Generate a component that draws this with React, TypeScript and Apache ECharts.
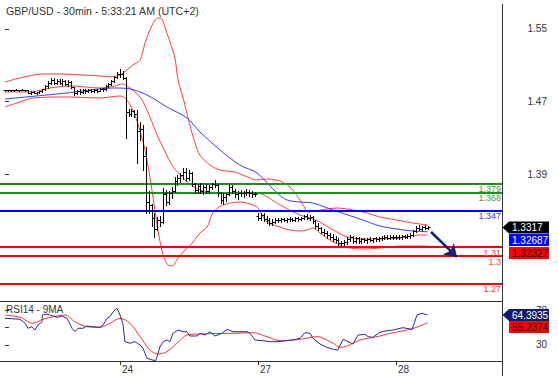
import React, { useEffect, useRef } from "react";
import * as echarts from "echarts";

// ---------- data ----------
const TITLE = "GBP/USD - 30min - 5:33:21 AM (UTC+2)";
const RSI_TITLE = "RSI14 - 9MA";
const dayStart = [40, 88, 136];
const dayLabels = ["24", "27", "28"];
const priceTicks = [1.55, 1.47, 1.39, 1.31];
const priceTickLabels = [1.55, 1.47, 1.39];
const rsiTicks = [30, 50, 70];
const rsiTickLabels = [30, 70];

const levelValues = [1.379, 1.368, 1.347, 1.31, 1.3, 1.27];
const levelLabels = ["1.379", "1.368", "1.347", "1.31", "1.3", "1.27"];
const levelKinds = ["res", "res", "pivot", "sup", "sup", "sup"];

const opens = [
  1.4829, 1.4830, 1.4831, 1.4829, 1.4832, 1.4830, 1.4831, 1.4829,
  1.4825, 1.4800, 1.4808, 1.4798, 1.4805, 1.4815, 1.4835, 1.4868,
  1.4910, 1.4935, 1.4910, 1.4930, 1.4905, 1.4925, 1.4895, 1.4920,
  1.4860, 1.4800, 1.4815, 1.4805, 1.4825, 1.4815, 1.4828, 1.4818,
  1.4832, 1.4822, 1.4840, 1.4835, 1.4870, 1.4895, 1.4925, 1.4975,
  1.5010, 1.5000, 1.4960, 1.4590, 1.4570, 1.4595, 1.4560, 1.4380,
  1.4400, 1.4100, 1.3600, 1.3560, 1.3420, 1.3300, 1.3400, 1.3380,
  1.3680, 1.3600, 1.3690, 1.3720, 1.3830, 1.3860, 1.3890, 1.3930,
  1.3860, 1.3920, 1.3790, 1.3730, 1.3770, 1.3720, 1.3760, 1.3715,
  1.3760, 1.3790, 1.3780, 1.3690, 1.3620, 1.3650, 1.3680, 1.3760,
  1.3720, 1.3680, 1.3700, 1.3690, 1.3700, 1.3710, 1.3690, 1.3680,
  1.3440, 1.3420, 1.3450, 1.3410, 1.3400, 1.3370, 1.3380, 1.3395,
  1.3400, 1.3410, 1.3400, 1.3405, 1.3412, 1.3402, 1.3415, 1.3408,
  1.3420, 1.3440, 1.3425, 1.3430, 1.3385, 1.3330, 1.3310, 1.3270,
  1.3250, 1.3230, 1.3210, 1.3190, 1.3180, 1.3140, 1.3150, 1.3160,
  1.3190, 1.3210, 1.3170, 1.3195, 1.3165, 1.3185, 1.3175, 1.3190,
  1.3180, 1.3195, 1.3185, 1.3200, 1.3205, 1.3210, 1.3205, 1.3212,
  1.3208, 1.3215, 1.3210, 1.3218, 1.3212, 1.3225, 1.3230, 1.3280,
  1.3310, 1.3300, 1.3320, 1.3310,
];
const highs = [
  1.4833, 1.4834, 1.4833, 1.4834, 1.4835, 1.4834, 1.4835, 1.4833,
  1.4830, 1.4815, 1.4820, 1.4812, 1.4822, 1.4840, 1.4880, 1.4925,
  1.4965, 1.4960, 1.4945, 1.4950, 1.4945, 1.4940, 1.4935, 1.4925,
  1.4865, 1.4830, 1.4840, 1.4835, 1.4840, 1.4838, 1.4840, 1.4842,
  1.4845, 1.4848, 1.4855, 1.4880, 1.4905, 1.4935, 1.4985, 1.5030,
  1.5060, 1.5035, 1.4970, 1.4625, 1.4615, 1.4610, 1.4605, 1.4477,
  1.4440, 1.4200, 1.3720, 1.3570, 1.3475, 1.3430, 1.3440, 1.3750,
  1.3730, 1.3720, 1.3760, 1.3870, 1.3890, 1.3920, 1.3965, 1.3970,
  1.3950, 1.3930, 1.3810, 1.3790, 1.3800, 1.3780, 1.3790, 1.3780,
  1.3810, 1.3840, 1.3790, 1.3710, 1.3690, 1.3700, 1.3790, 1.3780,
  1.3740, 1.3720, 1.3730, 1.3720, 1.3735, 1.3730, 1.3720, 1.3710,
  1.3475, 1.3480, 1.3470, 1.3440, 1.3420, 1.3410, 1.3420, 1.3420,
  1.3425, 1.3425, 1.3420, 1.3428, 1.3425, 1.3426, 1.3430, 1.3435,
  1.3455, 1.3460, 1.3450, 1.3440, 1.3400, 1.3360, 1.3320, 1.3300,
  1.3280, 1.3260, 1.3240, 1.3220, 1.3200, 1.3170, 1.3180, 1.3210,
  1.3230, 1.3225, 1.3210, 1.3215, 1.3200, 1.3205, 1.3200, 1.3210,
  1.3205, 1.3215, 1.3210, 1.3225, 1.3228, 1.3230, 1.3230, 1.3232,
  1.3234, 1.3235, 1.3236, 1.3238, 1.3240, 1.3250, 1.3290, 1.3330,
  1.3340, 1.3335, 1.3340, 1.3330,
];
const lows = [
  1.4826, 1.4827, 1.4826, 1.4827, 1.4828, 1.4827, 1.4826, 1.4822,
  1.4795, 1.4790, 1.4795, 1.4788, 1.4800, 1.4805, 1.4830, 1.4855,
  1.4890, 1.4895, 1.4895, 1.4890, 1.4885, 1.4880, 1.4875, 1.4850,
  1.4775, 1.4780, 1.4790, 1.4795, 1.4800, 1.4805, 1.4808, 1.4810,
  1.4812, 1.4815, 1.4820, 1.4830, 1.4860, 1.4880, 1.4915, 1.4960,
  1.4975, 1.4945, 1.4300, 1.4545, 1.4540, 1.4535, 1.4025, 1.4279,
  1.3950, 1.3475, 1.3475, 1.3330, 1.3215, 1.3290, 1.3330, 1.3370,
  1.3560, 1.3570, 1.3640, 1.3710, 1.3780, 1.3820, 1.3850, 1.3830,
  1.3840, 1.3770, 1.3700, 1.3690, 1.3700, 1.3680, 1.3700, 1.3690,
  1.3740, 1.3760, 1.3660, 1.3580, 1.3570, 1.3610, 1.3670, 1.3700,
  1.3650, 1.3630, 1.3660, 1.3650, 1.3670, 1.3660, 1.3650, 1.3660,
  1.3400, 1.3400, 1.3390, 1.3370, 1.3340, 1.3345, 1.3360, 1.3375,
  1.3380, 1.3385, 1.3380, 1.3390, 1.3388, 1.3390, 1.3392, 1.3395,
  1.3405, 1.3410, 1.3395, 1.3370, 1.3310, 1.3290, 1.3250, 1.3230,
  1.3200, 1.3190, 1.3170, 1.3160, 1.3120, 1.3110, 1.3120, 1.3130,
  1.3170, 1.3150, 1.3140, 1.3150, 1.3145, 1.3160, 1.3150, 1.3165,
  1.3160, 1.3170, 1.3165, 1.3180, 1.3185, 1.3188, 1.3185, 1.3190,
  1.3188, 1.3192, 1.3190, 1.3195, 1.3195, 1.3205, 1.3225, 1.3265,
  1.3290, 1.3285, 1.3300, 1.3300,
];
const closes = [
  1.4830, 1.4831, 1.4829, 1.4832, 1.4830, 1.4831, 1.4829, 1.4825,
  1.4800, 1.4808, 1.4798, 1.4805, 1.4815, 1.4835, 1.4868, 1.4910,
  1.4935, 1.4910, 1.4930, 1.4905, 1.4925, 1.4895, 1.4920, 1.4860,
  1.4800, 1.4815, 1.4805, 1.4825, 1.4815, 1.4828, 1.4818, 1.4832,
  1.4822, 1.4840, 1.4835, 1.4870, 1.4895, 1.4925, 1.4975, 1.5010,
  1.5000, 1.4960, 1.4590, 1.4570, 1.4595, 1.4560, 1.4380, 1.4400,
  1.4100, 1.3600, 1.3560, 1.3420, 1.3300, 1.3400, 1.3380, 1.3680,
  1.3600, 1.3690, 1.3720, 1.3830, 1.3860, 1.3890, 1.3930, 1.3860,
  1.3920, 1.3790, 1.3730, 1.3770, 1.3720, 1.3760, 1.3715, 1.3760,
  1.3790, 1.3780, 1.3690, 1.3620, 1.3650, 1.3680, 1.3760, 1.3720,
  1.3680, 1.3700, 1.3690, 1.3700, 1.3710, 1.3690, 1.3680, 1.3685,
  1.3420, 1.3450, 1.3410, 1.3400, 1.3370, 1.3380, 1.3395, 1.3400,
  1.3410, 1.3400, 1.3405, 1.3412, 1.3402, 1.3415, 1.3408, 1.3420,
  1.3440, 1.3425, 1.3430, 1.3385, 1.3330, 1.3310, 1.3270, 1.3250,
  1.3230, 1.3210, 1.3190, 1.3180, 1.3140, 1.3150, 1.3160, 1.3190,
  1.3210, 1.3170, 1.3195, 1.3165, 1.3185, 1.3175, 1.3190, 1.3180,
  1.3195, 1.3185, 1.3200, 1.3205, 1.3210, 1.3205, 1.3212, 1.3208,
  1.3215, 1.3210, 1.3218, 1.3212, 1.3225, 1.3230, 1.3280, 1.3310,
  1.3300, 1.3320, 1.3310, 1.3317,
];

// indicator lines: [bar index, value]
const bbUpper: [number, number][] = [
  [0, 1.4917], [5.2, 1.4961], [13.2, 1.5005], [19.1, 1.5005], [27.1, 1.4994],
  [33, 1.4983], [37.6, 1.4972], [40, 1.4994], [42.4, 1.5049], [44.5, 1.5104],
  [47, 1.5159], [48.7, 1.5346], [50.4, 1.5489], [52.2, 1.5599], [53.2, 1.5621],
  [54.6, 1.561], [55.7, 1.5511], [57.4, 1.5357], [59.1, 1.5181], [60.2, 1.4939],
  [62.6, 1.4664], [64.3, 1.4444], [66.1, 1.4246], [67.8, 1.4113], [71.3, 1.4003],
  [74.8, 1.3948], [80, 1.3926], [83.5, 1.3882], [87.7, 1.3838], [91.1, 1.3849],
  [95.7, 1.3827], [99.1, 1.3761], [101.9, 1.3651], [103.7, 1.3563], [105.4, 1.3486],
  [109.6, 1.3508], [115.5, 1.353], [121, 1.3508], [125.9, 1.3475], [130.4, 1.3431],
  [136.3, 1.3398], [141.9, 1.3365], [147, 1.3343],
];
const bbLower: [number, number][] = [
  [0, 1.4642], [5.2, 1.4697], [9.7, 1.4741], [21.6, 1.4752], [33, 1.4741],
  [40, 1.4763], [42.4, 1.4719], [45.2, 1.4554], [48.7, 1.4169], [51.1, 1.3728],
  [53.2, 1.3288], [55, 1.3013], [56.7, 1.2903], [58.1, 1.2892], [60.2, 1.298],
  [62.6, 1.3068], [64.3, 1.3112], [67.8, 1.3255], [70.3, 1.3321], [72.3, 1.3475],
  [75.8, 1.3563], [81.7, 1.3596], [87.7, 1.3541], [89.4, 1.3453], [91.1, 1.3376],
  [94.6, 1.3332], [99.1, 1.3288], [102.6, 1.3277], [105, 1.3288], [107.1, 1.331],
  [109.6, 1.3255], [113, 1.3178], [116.5, 1.3123], [120, 1.309], [125.2, 1.3079],
  [130.4, 1.309], [137.4, 1.3112], [147, 1.3112],
];
const bbMiddle: [number, number][] = [
  [0, 1.4807], [8.7, 1.4807], [15.7, 1.4851], [22.6, 1.4873], [33, 1.4851],
  [38.3, 1.4873], [40.7, 1.4895], [42.4, 1.4873], [45.2, 1.4807], [47.7, 1.4719],
  [50.4, 1.4532], [52.9, 1.4334], [55.7, 1.4147], [58.1, 1.4003], [60.9, 1.3893],
  [64.3, 1.3794], [67.8, 1.3728], [71.3, 1.3706], [80, 1.3695], [87.7, 1.3695],
  [95.7, 1.3563], [102.6, 1.3453], [108.1, 1.3398], [113, 1.331], [118.3, 1.3222],
  [123.5, 1.3189], [130.4, 1.3189], [137.4, 1.32], [144.3, 1.3233], [147, 1.32327],
];
const maBlue: [number, number][] = [
  [0, 1.473], [21.6, 1.4796], [37.6, 1.4851], [43.5, 1.484], [49.4, 1.4774],
  [56.3, 1.4642], [63.3, 1.4521], [67.8, 1.4367], [74.8, 1.4169], [81.7, 1.4003],
  [87.7, 1.3915], [94.6, 1.3695], [98.1, 1.3618], [102.6, 1.3596], [107.1, 1.3585],
  [114.1, 1.3508], [124.5, 1.3398], [130.4, 1.3332], [136.3, 1.3299], [141.9, 1.3277],
  [147, 1.32687],
];
const rsi14: [number, number][] = [
  [0, 60.5], [5.2, 59.4], [7, 54.8], [8, 49.1], [9.4, 50.9], [10.4, 47.1], [11.5, 52.9],
  [12.9, 56.6], [13, 64.3], [14.6, 65.4], [16.7, 63.1], [18.4, 61.7], [19.8, 63.1],
  [21.6, 60.5], [23.3, 49.1], [24.3, 45.2], [25.4, 49.1], [27.1, 49.1], [28.5, 51.7],
  [30.6, 50.9], [33, 50.2], [34.1, 52.9], [35.5, 60.5], [36.5, 62.3], [37.6, 68.1],
  [39, 71.9], [40, 64.3], [41, 54.8], [41.7, 33.8], [43.5, 32], [45.2, 33.8], [47, 30],
  [48, 26.2], [49.4, 14.8], [51.5, 12.6], [52.5, 12.4], [53.9, 28], [55, 33.8],
  [56.3, 35.7], [57.4, 33.8], [58.4, 43.4], [60.2, 47.1], [61.9, 45.2], [63.3, 45.2],
  [64.3, 40.3], [66.8, 40.3], [67.8, 43.4], [69.6, 41.4], [71.3, 45.2], [73, 40.3],
  [75.5, 43.4], [77.2, 47.9], [79.3, 45.2], [81.7, 45.2], [84.2, 45.2], [85.2, 43.4],
  [87, 35.7], [89.7, 34.9], [92.2, 33.8], [95, 33.8], [100.2, 35.7], [102.6, 37.6],
  [104.3, 44.1], [106.1, 43.4], [107.1, 37.6], [109.6, 31.1], [112, 27.3], [114.1, 25],
  [115.8, 24.3], [117.6, 36.5], [119.3, 33.8], [121, 31.1], [122.8, 41.4], [125.2, 42.2],
  [126.3, 39.5], [128, 38.8], [130.4, 44.5], [132.9, 46.3], [135, 47.1], [138.4, 49.8],
  [141.6, 47.9], [143.3, 64.3], [145, 66.2], [147, 64.3935],
];
const rsiMa9: [number, number][] = [
  [0, 64.3], [5.2, 61.7], [9.7, 54.8], [13.2, 59.4], [16.7, 62.3], [20.9, 64.3],
  [24.3, 56.6], [28.5, 50.9], [33, 50.2], [36.5, 54.8], [40, 60.5], [43.5, 54.8],
  [47, 39.5], [50.4, 24.3], [53.2, 19.7], [56.3, 22.3], [59.8, 32], [63.3, 41.4],
  [67.8, 42.6], [79.3, 43.4], [86.3, 44.1], [91.1, 39.5], [95.7, 34.9], [102.6, 36.5],
  [108.5, 39.5], [114.1, 32], [116.5, 27.3], [119, 28.8], [123.5, 35.7], [129.4, 39.5],
  [135, 44.1], [140.9, 47.9], [147, 55.2374],
];

// forecast arrow: [bar index, price]
const arrowFrom = [148.2, 1.3266];
const arrowTo = [157.2, 1.2991];

// ---------- styling / layout ----------
const FONT = '"Liberation Sans", Arial, Helvetica, sans-serif';
const AXIS_X = 502;
const XMIN = -1.739;
const XMAX = 172.87;
const FS = 10;
const LEVEL_FS = 9;
const LEVEL_STYLE: Record<string, { line: string; text: string }> = {
  res: { line: "#1f8f1f", text: "#3c9c3c" },
  pivot: { line: "#0000ff", text: "#3a3aff" },
  sup: { line: "#ff0000", text: "#ff3a3a" },
};

export default function App() {
  const ref = useRef<HTMLDivElement>(null);

  useEffect(() => {
    const chart = echarts.init(ref.current as HTMLDivElement, null, { renderer: "svg" });
    const n = closes.length;
    const ohlc = closes.map((c, i) => [i, opens[i], c, lows[i], highs[i]]);

    const option: any = {
      animation: false,
      textStyle: { fontFamily: FONT },
      grid: [
        { left: 0, top: 4, width: AXIS_X, height: 297 },
        { left: 0, top: 301, width: AXIS_X, height: 60 },
      ],
      xAxis: [
        { type: "value", gridIndex: 0, min: XMIN, max: XMAX, show: false },
        {
          type: "value",
          gridIndex: 1,
          min: XMIN,
          max: XMAX,
          splitLine: { show: false },
          axisLine: { show: true, lineStyle: { color: "#333", width: 1 } },
          axisTick: { show: true, customValues: dayStart, length: 4, lineStyle: { color: "#333" } },
          axisLabel: {
            customValues: dayStart,
            formatter: (v: number) => dayLabels[dayStart.indexOf(Math.round(v))] ?? "",
            align: "left",
            margin: 3,
            padding: [0, 0, 0, 2],
            color: "#333",
            fontSize: FS,
            fontFamily: FONT,
          },
        },
      ],
      yAxis: [
        {
          type: "value",
          gridIndex: 0,
          position: "right",
          min: 1.2507,
          max: 1.5775,
          splitLine: { show: false },
          axisLine: { show: false },
          axisTick: { show: true, customValues: priceTicks, length: 4, lineStyle: { color: "#333" } },
          axisLabel: {
            customValues: priceTickLabels,
            formatter: (v: number) => v.toFixed(2),
            align: "right",
            margin: 45,
            padding: [0, 0, 6, 0],
            color: "#333",
            fontSize: FS,
            fontFamily: FONT,
          },
        },
        {
          type: "value",
          gridIndex: 1,
          position: "right",
          min: 11.7,
          max: 80.3,
          splitLine: { show: false },
          axisLine: { show: false },
          axisTick: { show: true, customValues: rsiTicks, length: 4, lineStyle: { color: "#333" } },
          axisLabel: {
            customValues: rsiTickLabels,
            formatter: (v: number) => String(Math.round(v)),
            align: "right",
            margin: 45,
            padding: [0, 0, 6, 0],
            color: "#333",
            fontSize: FS,
            fontFamily: FONT,
          },
        },
      ],
      series: [
        {
          type: "line",
          name: "bbUpper",
          xAxisIndex: 0,
          yAxisIndex: 0,
          data: bbUpper,
          showSymbol: false,
          smooth: 0.3,
          lineStyle: { color: "#ff3c3c", width: 1 },
          z: 2,
          markLine: {
            silent: true,
            symbol: ["none", "none"],
            data: levelValues.map((v, k) => ({
              name: levelLabels[k],
              yAxis: v,
              lineStyle: { color: LEVEL_STYLE[levelKinds[k]].line, width: 2, type: "solid" },
              label: {
                show: true,
                position: "insideEndBottom",
                formatter: "{b}",
                color: LEVEL_STYLE[levelKinds[k]].text,
                fontSize: LEVEL_FS,
                fontFamily: FONT,
                distance: [1, 1],
              },
            })),
          },
        },
        {
          type: "line",
          name: "bbLower",
          xAxisIndex: 0,
          yAxisIndex: 0,
          data: bbLower,
          showSymbol: false,
          smooth: 0.3,
          lineStyle: { color: "#ff3c3c", width: 1 },
          z: 2,
        },
        {
          type: "line",
          name: "bbMiddle",
          xAxisIndex: 0,
          yAxisIndex: 0,
          data: bbMiddle,
          showSymbol: false,
          smooth: 0.3,
          lineStyle: { color: "#ff3c3c", width: 1 },
          z: 2,
          markLine: {
            silent: true,
            symbol: ["none", "arrow"],
            symbolSize: 12,
            label: { show: false },
            lineStyle: { color: "#16216b", width: 2.5, type: "solid" },
            data: [[{ coord: arrowFrom }, { coord: arrowTo }]],
          },
        },
        {
          type: "line",
          name: "maBlue",
          xAxisIndex: 0,
          yAxisIndex: 0,
          data: maBlue,
          showSymbol: false,
          smooth: 0.3,
          lineStyle: { color: "#3a3aff", width: 1 },
          z: 2,
        },
        {
          type: "custom",
          name: "ohlc",
          xAxisIndex: 0,
          yAxisIndex: 0,
          data: ohlc,
          encode: { x: 0, y: [1, 2, 3, 4] },
          z: 5,
          renderItem: (params: any, api: any) => {
            const i = api.value(0);
            const o = api.coord([i, api.value(1)]);
            const c = api.coord([i, api.value(2)]);
            const l = api.coord([i, api.value(3)]);
            const h = api.coord([i, api.value(4)]);
            const x = Math.round(o[0]) + 0.5;
            const yo = Math.round(o[1]) + 0.5;
            const yc = Math.round(c[1]) + 0.5;
            const yh = Math.round(h[1]);
            let yl = Math.round(l[1]) + 1;
            if (yl - yh < 2) yl = yh + 2;
            const st = { stroke: "#000", lineWidth: 1 };
            return {
              type: "group",
              children: [
                { type: "line", shape: { x1: x, y1: yh, x2: x, y2: yl }, style: st },
                { type: "line", shape: { x1: x - 2, y1: yo, x2: x, y2: yo }, style: st },
                { type: "line", shape: { x1: x, y1: yc, x2: x + 2, y2: yc }, style: st },
              ],
            };
          },
        },
        {
          type: "line",
          name: "rsi",
          xAxisIndex: 1,
          yAxisIndex: 1,
          data: rsi14,
          showSymbol: false,
          lineStyle: { color: "#2a2a9a", width: 1 },
          z: 3,
        },
        {
          type: "line",
          name: "rsiMa",
          xAxisIndex: 1,
          yAxisIndex: 1,
          data: rsiMa9,
          showSymbol: false,
          smooth: 0.3,
          lineStyle: { color: "#ff3030", width: 1 },
          z: 2,
        },
      ],
    };

    chart.setOption(option);

    const lastClose = closes[n - 1];
    const lastBlue = maBlue[maBlue.length - 1][1];
    const lastMid = bbMiddle[bbMiddle.length - 1][1];
    const lastRsi = rsi14[rsi14.length - 1][1];
    const lastRsiMa = rsiMa9[rsiMa9.length - 1][1];

    const yClose = chart.convertToPixel({ yAxisIndex: 0 }, lastClose) as number;
    const yRsi = chart.convertToPixel({ yAxisIndex: 1 }, lastRsi) as number;

    const tag = (yc: number, text: string, bg: string, fg: string, arrow: boolean) => {
      const shape = arrow
        ? {
            type: "polygon",
            shape: {
              points: [
                [AXIS_X + 0.5, yc],
                [AXIS_X + 7, yc - 6],
                [AXIS_X + 47, yc - 6],
                [AXIS_X + 47, yc + 6],
                [AXIS_X + 7, yc + 6],
              ],
            },
            style: { fill: bg },
            z: 100,
          }
        : {
            type: "rect",
            shape: { x: AXIS_X + 7, y: yc - 6, width: 40, height: 12 },
            style: { fill: bg },
            z: 100,
          };
      return [
        shape,
        {
          type: "text",
          x: AXIS_X + 10,
          y: yc + 0.5,
          z: 101,
          style: {
            text,
            fill: fg,
            fontSize: FS,
            fontFamily: FONT,
            verticalAlign: "middle",
            align: "left",
          },
        },
      ];
    };

    const graphic: any[] = [
      {
        type: "line",
        shape: { x1: AXIS_X + 0.5, y1: 4, x2: AXIS_X + 0.5, y2: 376 },
        style: { stroke: "#333", lineWidth: 1 },
        z: 50,
      },
      {
        type: "line",
        shape: { x1: 0, y1: 301.5, x2: AXIS_X, y2: 301.5 },
        style: { stroke: "#333", lineWidth: 1 },
        z: 50,
      },
      {
        type: "text",
        x: 6,
        y: 11,
        z: 60,
        style: { text: TITLE, fill: "#333", fontSize: 10.6, fontFamily: FONT, verticalAlign: "middle" },
      },
      {
        type: "text",
        x: 6,
        y: 309,
        z: 60,
        style: { text: RSI_TITLE, fill: "#333", fontSize: FS, fontFamily: FONT, verticalAlign: "middle" },
      },
      ...tag(yClose, lastClose.toFixed(4), "#000000", "#ffffff", true),
      ...tag(yClose + 12.5, lastBlue.toFixed(5), "#0000ff", "#ffffff", false),
      ...tag(yClose + 25.5, lastMid.toFixed(5), "#ff0000", "#330000", false),
      ...tag(yRsi, lastRsi.toFixed(4), "#0f1c70", "#ffffff", true),
      ...tag(yRsi + 12, lastRsiMa.toFixed(4), "#ff0000", "#330000", false),
    ];
    chart.setOption({ graphic });

    return () => chart.dispose();
  }, []);

  return (
    <div
      ref={ref}
      style={{ position: "fixed", left: 0, top: 0, width: 558, height: 376, background: "#fff" }}
    />
  );
}
